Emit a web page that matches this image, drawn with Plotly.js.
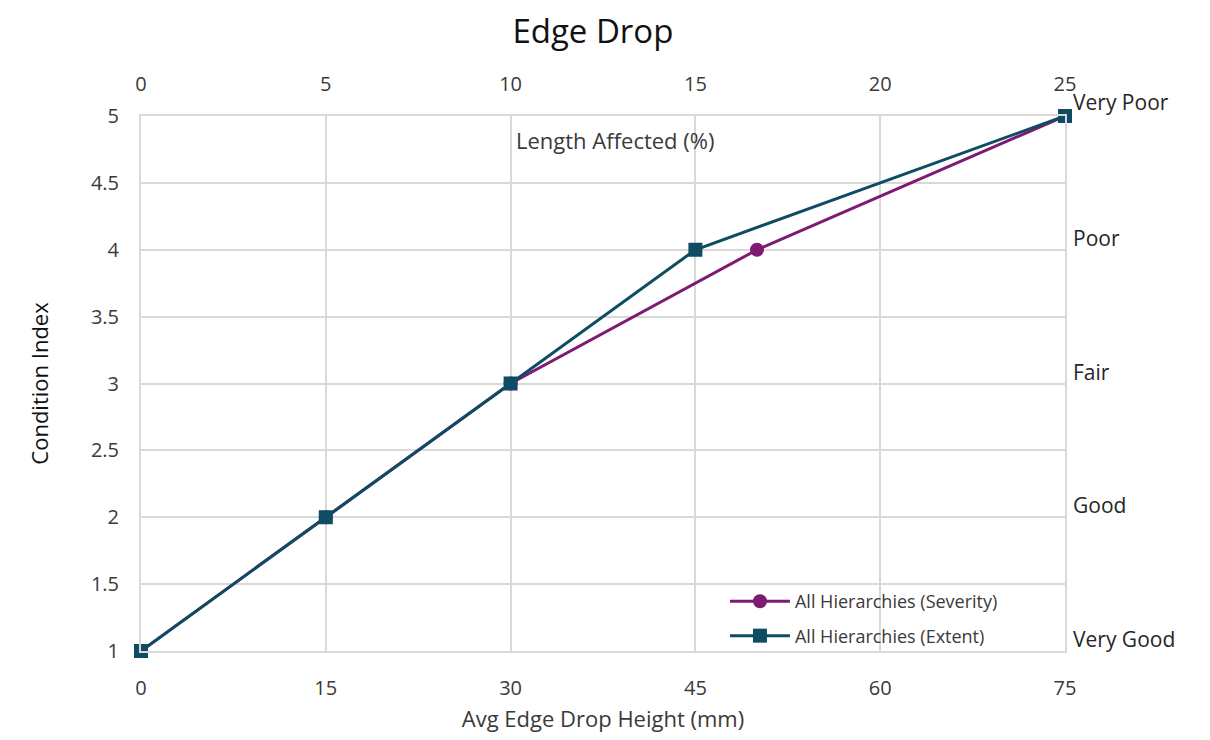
<!DOCTYPE html>
<html>
<head>
<meta charset="utf-8">
<script src="https://cdn.plot.ly/plotly-3.0.1.min.js"></script>
<style>html,body{margin:0;padding:0;background:#fff;}#chart{width:1210px;height:740px;}</style>
</head>
<body>
<div id="chart"></div>
<script>
// Data
const severityX = [0, 15, 30, 50, 75];          // Avg Edge Drop Height (mm)
const severityY = [1, 2, 3, 4, 5];
const extentX = [0, 5, 10, 15, 25];             // Length Affected (%)
const extentY = [1, 2, 3, 4, 5];
const conditionLabels = ["Very Good", "Good", "Fair", "Poor", "Very Poor"];
const conditionLevels = [1, 2, 3, 4, 5];
const seriesNames = ["All Hierarchies (Severity)", "All Hierarchies (Extent)"];

const FONT = "Open Sans, Liberation Sans, sans-serif";
const GRID = "#d9d9d9";
const TXT = "#3a3a3a";

const traces = [
  {
    x: severityX, y: severityY, name: seriesNames[0], legendgroup: "a",
    type: "scatter", mode: "lines+markers", xaxis: "x", yaxis: "y",
    line: {color: "#7e1a72", width: 3},
    marker: {color: "#7e1a72", size: 14, symbol: "circle"},
    cliponaxis: false
  },
  {
    x: extentX, y: extentY, name: seriesNames[1], legendgroup: "b",
    type: "scatter", mode: "lines+markers", xaxis: "x2", yaxis: "y",
    line: {color: "#0e4c63", width: 3},
    marker: {color: "#0e4c63", size: 14, symbol: "square"},
    cliponaxis: false
  }
];

const annotations = conditionLabels.map((t, i) => ({
  text: t, xref: "paper", yref: "y", x: 1.007, y: conditionLevels[i],
  xanchor: "left", yanchor: "middle", yshift: (i === 4 ? 14 : 12),
  showarrow: false, font: {family: FONT, size: 21, color: "#262626"}
}));
annotations.push({
  text: "Length Affected (%)", xref: "paper", yref: "paper", x: 0.513, y: 0.955,
  xanchor: "center", yanchor: "middle", showarrow: false,
  font: {family: FONT, size: 22, color: TXT}
});

const layout = {
  width: 1210, height: 740,
  margin: {l: 141, r: 145, t: 116, b: 89},
  paper_bgcolor: "#fff", plot_bgcolor: "#fff",
  font: {family: FONT, color: TXT},
  title: {text: "Edge Drop", x: 0.49, xanchor: "center", y: 0.958, yanchor: "middle",
          font: {family: FONT, size: 33, color: "#111"}},
  showlegend: true,
  legend: {x: 0.632, y: 0.127, xanchor: "left", yanchor: "top", bgcolor: "rgba(0,0,0,0)",
           font: {family: FONT, size: 18, color: TXT}, tracegroupgap: 8, itemwidth: 60},
  xaxis: {
    range: [0, 75], dtick: 15, tick0: 0, showgrid: true, gridcolor: GRID, gridwidth: 2,
    zeroline: false, showline: true, linecolor: GRID, linewidth: 2, mirror: true,
    ticks: "outside", ticklen: 18, tickcolor: "rgba(0,0,0,0)",
    tickfont: {family: FONT, size: 20, color: TXT},
    title: {text: "Avg Edge Drop Height (mm)", font: {family: FONT, size: 22, color: TXT}, standoff: 12}
  },
  xaxis2: {
    range: [0, 25], dtick: 5, tick0: 0, overlaying: "x", side: "top", showgrid: false,
    zeroline: false, showline: false,
    ticks: "outside", ticklen: 16, tickcolor: "rgba(0,0,0,0)",
    tickfont: {family: FONT, size: 20, color: TXT}
  },
  yaxis: {
    range: [1, 5], dtick: 0.5, tick0: 1, showgrid: true, gridcolor: GRID, gridwidth: 2,
    zeroline: false, showline: true, linecolor: GRID, linewidth: 2, mirror: true,
    ticks: "outside", ticklen: 16, tickcolor: "rgba(0,0,0,0)",
    tickfont: {family: FONT, size: 20, color: TXT},
    title: {text: "Condition Index", font: {family: FONT, size: 22, color: "#111"}, standoff: 36}
  },
  annotations: annotations
};

Plotly.newPlot("chart", traces, layout, {displayModeBar: false, staticPlot: true});
</script>
</body>
</html>
